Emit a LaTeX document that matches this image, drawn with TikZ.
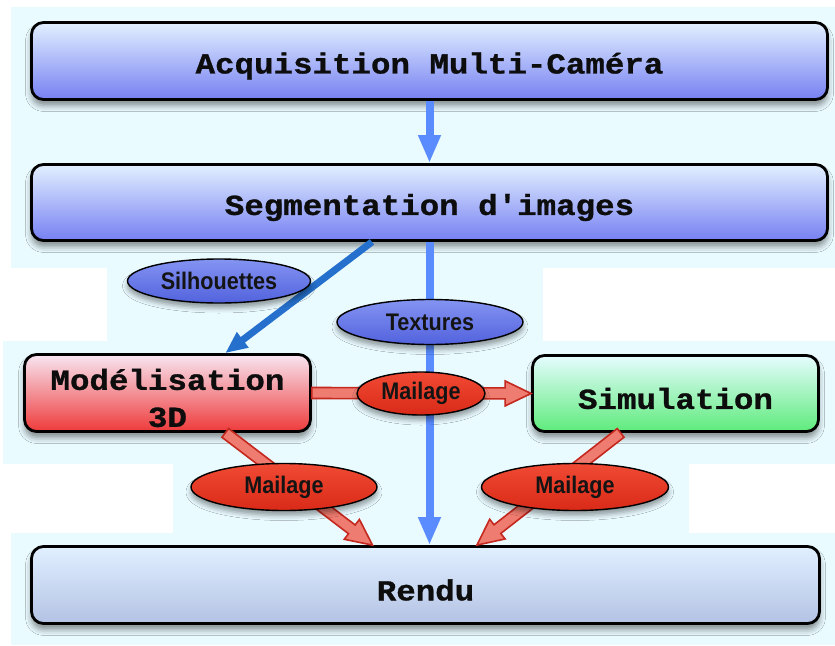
\documentclass[tikz,border=0pt]{standalone}
\usepackage{fontspec}
\usetikzlibrary{calc,arrows.meta,shapes.geometric,shadows.blur}
\newfontfamily\boxfont[FakeStretch=1.12,FakeBold=1]{Liberation Mono}
\newfontfamily\tagfont[FakeStretch=0.9]{Liberation Sans}

\definecolor{bgcyan}{HTML}{EAFBFF}
\definecolor{bluetop}{HTML}{E2F0FF}
\definecolor{bluebot}{HTML}{7680F2}
\definecolor{redtop}{HTML}{F8E6F2}
\definecolor{redbot}{HTML}{EE3A3A}
\definecolor{greentop}{HTML}{E6FCFF}
\definecolor{greenbot}{HTML}{5EEB7C}
\definecolor{greytop}{HTML}{E0F0FF}
\definecolor{greybot}{HTML}{B4C2E4}
\definecolor{flowblue}{HTML}{5A8CFF}
\definecolor{darkflow}{HTML}{2570CC}
\definecolor{tagbluetop}{HTML}{8494F2}
\definecolor{tagbluebot}{HTML}{5262DD}
\definecolor{tagredtop}{HTML}{F04A34}
\definecolor{tagredbot}{HTML}{D92A18}
\definecolor{meshfill}{HTML}{EF7C70}
\definecolor{meshedge}{HTML}{C4281E}

% lower a line of text without changing its box
\newcommand\lowered[1]{\raisebox{-5pt}[\height][\depth]{#1}}

\tikzset{
  stepbox/.style={draw=black, line width=2.8pt, rounded corners=12pt,
    inner sep=0pt, align=center, text=black!95,
    font=\boxfont\bfseries\fontsize{29}{37}\selectfont,
    blur shadow={shadow xshift=0pt, shadow yshift=-6pt,
      shadow blur radius=6pt, shadow opacity=45}},
  tag/.style={ellipse, draw=black, line width=1.4pt, inner sep=0pt,
    text=black!92, font=\tagfont\bfseries\fontsize{24}{28}\selectfont,
    blur shadow={shadow xshift=0pt, shadow yshift=-5pt,
      shadow blur radius=5pt, shadow opacity=40}},
  bluetag/.style={tag, top color=tagbluetop, bottom color=tagbluebot},
  redtag/.style={tag, top color=tagredtop, bottom color=tagredbot},
  flow/.style={draw=flowblue, line width=8pt,
    -{Triangle[width=21pt,length=28pt]}},
  darkline/.style={draw=darkflow, line width=7pt,
    -{Triangle[width=18pt,length=22pt]}},
  hollow/.style={fill=meshfill, draw=meshedge, line width=1.6pt,
    line join=miter}
}

% wide outlined arrow between two coordinates
\newcommand\hollowarrow[2]{%
  \coordinate (ha-s) at (#1);
  \coordinate (ha-e) at (#2);
  \coordinate (ha-h) at ($(ha-e)!26pt!(ha-s)$);
  \filldraw[hollow]
    ($(ha-s)!5.5pt!90:(ha-e)$) -- ($(ha-h)!5.5pt!-90:(ha-s)$)
    -- ($(ha-h)!12.5pt!-90:(ha-s)$) -- (ha-e)
    -- ($(ha-h)!12.5pt!90:(ha-s)$) -- ($(ha-h)!5.5pt!90:(ha-s)$)
    -- ($(ha-s)!5.5pt!-90:(ha-e)$) -- cycle;
}

\begin{document}
\begin{tikzpicture}[x=1pt,y=-1pt]
\useasboundingbox (0,0) rectangle (835,645);

% page background bands
\fill[white] (0,0) rectangle (835,645);
\fill[bgcyan] (11,7) rectangle (835,268);
\fill[bgcyan] (107,267) rectangle (543,342);
\fill[bgcyan] (3,341) rectangle (835,464);
\fill[bgcyan] (173,463) rectangle (689,534);
\fill[bgcyan] (11,533) rectangle (835,645);

% processing stages
\node[stepbox, top color=bluetop, bottom color=bluebot,
  minimum width=796pt, minimum height=77pt] (acq) at (429.5,61)
  {\lowered{Acquisition Multi-Caméra}};
\node[stepbox, top color=bluetop, bottom color=bluebot,
  minimum width=796pt, minimum height=76pt] (seg) at (429.5,202.5)
  {\lowered{Segmentation d'images}};
\node[stepbox, top color=redtop, bottom color=redbot,
  minimum width=286pt, minimum height=77pt] (mod) at (167.5,393)
  {\lowered{Modélisation}\\\lowered{3D}};
\node[stepbox, top color=greentop, bottom color=greenbot,
  minimum width=286pt, minimum height=76pt] (sim) at (675.5,393.5)
  {\lowered{Simulation}};
\node[stepbox, top color=greytop, bottom color=greybot,
  minimum width=788pt, minimum height=77pt] (rendu) at (425.5,585)
  {\lowered{Rendu}};

% data flow
\draw[flow] (acq.south) -- (seg.north);
\draw[flow] (seg.south) -- (seg.south |- rendu.north);
\draw[darkline] ($(seg.south west)!0.428!(seg.south east)$)
  -- ($(mod.north west)!0.70!(mod.north east)$);
\hollowarrow{mod.east}{sim.west}
\hollowarrow{$(mod.south west)!0.70!(mod.south east)$}
  {$(rendu.north west)!0.433!(rendu.north east)$}
\hollowarrow{$(sim.south west)!0.31!(sim.south east)$}
  {$(rendu.north west)!0.565!(rendu.north east)$}

% data labels
\node[bluetag, minimum width=183pt, minimum height=44pt] (sil)
  at (219,281) {Silhouettes};
\node[bluetag, minimum width=186pt, minimum height=45pt] (tex)
  at (430,322) {Textures};
\node[redtag, minimum width=128pt, minimum height=43pt] (mc)
  at (421,393.5) {Mailage};
\node[redtag, minimum width=186pt, minimum height=47pt] (ml)
  at (284,487) {Mailage};
\node[redtag, minimum width=187pt, minimum height=47pt] (mr)
  at (575,487) {Mailage};
\end{tikzpicture}
\end{document}
